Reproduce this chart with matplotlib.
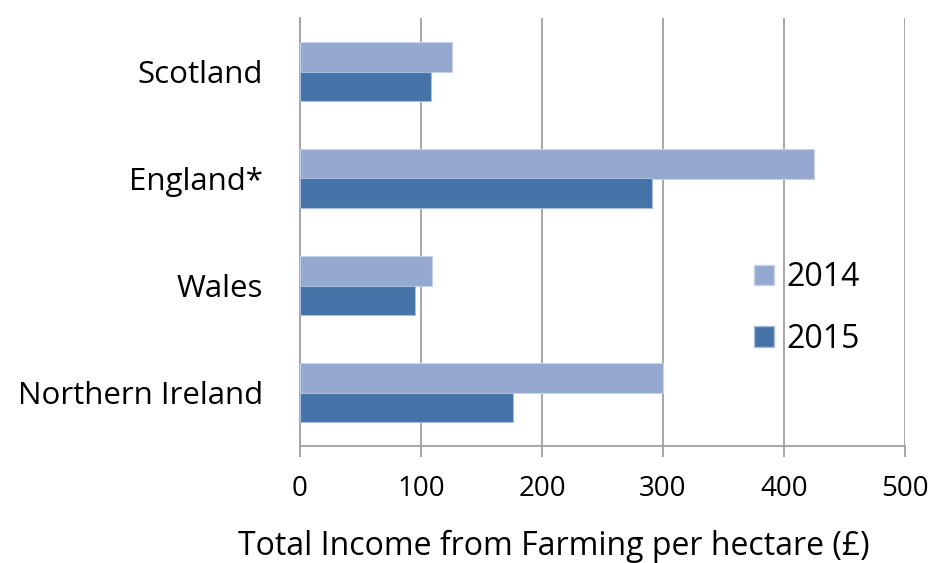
import matplotlib
matplotlib.use("Agg")
import matplotlib.pyplot as plt
from matplotlib.patches import Patch
import numpy as np

regions = ["Scotland", "England*", "Wales", "Northern Ireland"]
income_2014 = [126, 425, 109, 300]
income_2015 = [108, 291, 95, 176]
x_ticks = [0, 100, 200, 300, 400, 500]

color_2014 = "#95A9D0"
color_2015 = "#4573A8"
grid_color = "#A0A0A0"

plt.rcParams["font.family"] = ["Open Sans", "DejaVu Sans"]

W, H = 934, 563
fig = plt.figure(figsize=(W / 100, H / 100), dpi=100)
ax = fig.add_axes([300 / W, 117 / H, 605 / W, 428 / H])

pos = np.arange(len(regions))[::-1]
h = 0.275
ax.barh(pos + h / 2, income_2014, height=h, color=color_2014,
        edgecolor="#C5D2E8", linewidth=0.8, zorder=3, label="2014")
ax.barh(pos - h / 2, income_2015, height=h, color=color_2015,
        edgecolor="#A9BCD9", linewidth=0.8, zorder=3, label="2015")

ax.set_xlim(0, 500)
ax.set_ylim(-0.5, len(regions) - 0.5)
ax.set_xticks(x_ticks)
ax.set_xticklabels([str(t) for t in x_ticks], fontsize=20)
ax.set_yticks(pos)
ax.set_yticklabels(regions, fontsize=22.5)

ax.xaxis.grid(True, color=grid_color, linewidth=1.3, zorder=0)
ax.yaxis.grid(False)
for side in ("top", "right"):
    ax.spines[side].set_visible(False)
for side in ("left", "bottom"):
    ax.spines[side].set_color(grid_color)
    ax.spines[side].set_linewidth(1.3)
ax.tick_params(axis="x", length=8, width=1.3, color=grid_color, pad=13)
ax.tick_params(axis="y", length=0, pad=26.5)

# axis title sits left of the axes centre, close to the bottom edge
fig.text(238 / W, 8 / H, "Total Income from Farming per hectare (£)",
         fontsize=23, ha="left", va="baseline")

handles = [Patch(facecolor=color_2014, edgecolor="#C5D2E8"),
           Patch(facecolor=color_2015, edgecolor="#A9BCD9")]
fig.legend(handles, ["2014", "2015"], loc="upper left",
           bbox_to_anchor=(754 / W, 1 - 261 / H), frameon=False, fontsize=23,
           borderpad=0, borderaxespad=0,
           handlelength=0.62, handleheight=0.6, handletextpad=0.4,
           labelspacing=0.9)

fig.savefig("out.png", dpi=100, facecolor="white")
